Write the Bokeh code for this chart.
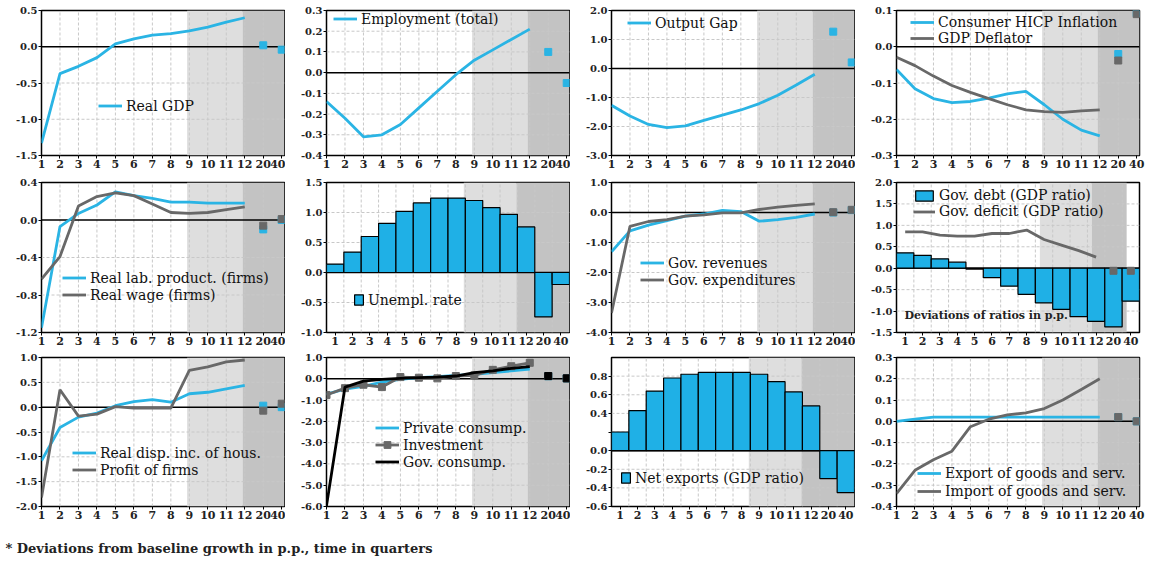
from bokeh.plotting import figure
from bokeh.layouts import column, row
from bokeh.models import (Range1d, FixedTicker, NumeralTickFormatter, Legend,
                          LegendItem, Label)
from bokeh.embed import file_html
from bokeh.resources import INLINE

# ---------------------------------------------------------------- data
QUARTERS = ["1", "2", "3", "4", "5", "6", "7", "8", "9", "10", "11", "12", "20", "40"]
NEAR = list(range(1, 13))   # slots of quarters 1..12
FAR = [13, 14]              # slots of quarters 20 and 40
ALL = list(range(1, 15))

real_gdp = [-1.33, -0.37, -0.27, -0.15, 0.04, 0.11, 0.16, 0.18, 0.22, 0.27, 0.34, 0.40]
real_gdp_far = [0.02, -0.04]

employment = [-0.14, -0.22, -0.31, -0.30, -0.25, -0.17, -0.09, -0.01, 0.06, 0.11, 0.16, 0.21]
employment_far = [0.10, -0.05]

output_gap = [-1.27, -1.64, -1.93, -2.04, -1.98, -1.79, -1.61, -1.43, -1.21, -0.92, -0.57, -0.20]
output_gap_far = [1.27, 0.21]

hicp = [-0.063, -0.116, -0.143, -0.154, -0.151, -0.142, -0.130, -0.123, -0.160, -0.200, -0.230, -0.246]
hicp_far = [-0.020, 0.093]
deflator = [-0.029, -0.052, -0.081, -0.107, -0.126, -0.143, -0.160, -0.174, -0.179, -0.181, -0.177, -0.174]
deflator_far = [-0.038, 0.090]

lab_prod = [-1.15, -0.07, 0.07, 0.16, 0.30, 0.26, 0.23, 0.19, 0.19, 0.18, 0.18, 0.18]
lab_prod_far = [-0.10, 0.00]
real_wage = [-0.63, -0.39, 0.15, 0.25, 0.29, 0.26, 0.17, 0.08, 0.07, 0.08, 0.11, 0.14]
real_wage_far = [-0.06, 0.01]

unempl = [0.14, 0.34, 0.60, 0.82, 1.02, 1.16, 1.24, 1.24, 1.20, 1.08, 0.97, 0.76, -0.74, -0.20]

gov_rev = [-1.31, -0.61, -0.42, -0.27, -0.12, -0.05, 0.07, 0.03, -0.29, -0.24, -0.16, -0.05]
gov_rev_far = [0.00, 0.08]
gov_exp = [-3.35, -0.46, -0.30, -0.24, -0.12, -0.08, -0.01, -0.01, 0.10, 0.18, 0.24, 0.29]
gov_exp_far = [0.01, 0.09]

gov_debt = [0.36, 0.30, 0.22, 0.14, -0.02, -0.22, -0.42, -0.61, -0.81, -0.96, -1.13, -1.24, -1.37, -0.77]
gov_deficit = [0.85, 0.85, 0.77, 0.75, 0.75, 0.81, 0.81, 0.89, 0.67, 0.54, 0.41, 0.26]
gov_deficit_far = [-0.06, -0.06]

disp_inc = [-1.08, -0.41, -0.20, -0.12, 0.03, 0.11, 0.15, 0.10, 0.27, 0.30, 0.37, 0.44]
disp_inc_far = [0.03, 0.00]
profit = [-1.82, 0.35, -0.18, -0.14, 0.01, -0.02, -0.02, -0.02, 0.74, 0.81, 0.91, 0.95]
profit_far = [-0.07, 0.07]

priv_cons = [-0.72, -0.49, -0.36, -0.16, -0.03, 0.05, 0.10, 0.16, 0.21, 0.29, 0.37, 0.46]
priv_cons_far = [0.12, 0.02]
investment = [-0.76, -0.44, -0.28, -0.39, 0.08, 0.05, 0.02, 0.13, 0.16, 0.42, 0.59, 0.75]
investment_far = [0.12, 0.02]
gov_cons = [-5.97, -0.39, -0.11, -0.03, 0.02, 0.05, 0.08, 0.13, 0.29, 0.37, 0.49, 0.57]
gov_cons_far = [0.13, 0.02]

net_exports = [0.20, 0.43, 0.64, 0.78, 0.82, 0.84, 0.84, 0.84, 0.82, 0.74, 0.63, 0.48, -0.30, -0.45]

exports = [0.00, 0.01, 0.02, 0.02, 0.02, 0.02, 0.02, 0.02, 0.02, 0.02, 0.02, 0.02]
exports_far = [0.02, 0.00]
imports = [-0.34, -0.23, -0.18, -0.14, -0.025, 0.01, 0.03, 0.04, 0.06, 0.10, 0.15, 0.20]
imports_far = [0.02, 0.00]

# ---------------------------------------------------------------- style
CYAN = "#2ab4e4"
GRAY = "#686868"
BAR = "#1fb0e6"
SHADE_LIGHT = "#dedede"
SHADE_DARK = "#c3c3c3"
GRID = "#c8c8c8"
SERIF = "DejaVu Serif"

COL_W = [285, 285, 285, 295]
BORDER_RIGHT = [1, 1, 1, 11]
ROW_H = [174, 175, 176]
BORDER_TOP = [10, 8, 8]
BORDER_BOTTOM = [19, 17, 19]
FRAME_H = [h - t - b for h, t, b in zip(ROW_H, BORDER_TOP, BORDER_BOTTOM)]

LINE_SHADES = [(8.88, 11.88), (11.88, 14.15)]
BAR_SHADES = [(8.41, 11.44), (11.44, 14.5)]


def steps(lo, hi, step):
    n = int(round((hi - lo) / step))
    return [round(lo + i * step, 2) for i in range(n + 1)]


def panel(ci, ri, y_lo, y_hi, ticks, bars=False, shades=None, blank=()):
    xr = Range1d(0.5, 14.5) if bars else Range1d(1, 14.15)
    p = figure(width=COL_W[ci], height=ROW_H[ri], x_range=xr,
               y_range=Range1d(y_lo, y_hi), output_backend="svg",
               toolbar_location=None,
               min_border_left=41, min_border_right=BORDER_RIGHT[ci],
               min_border_top=BORDER_TOP[ri], min_border_bottom=BORDER_BOTTOM[ri])
    p.xgrid.visible = False
    p.ygrid.visible = False
    p.outline_line_color = "black"
    p.outline_line_width = 1.5
    p.outline_line_alpha = 1
    p.background_fill_color = "white"
    p.border_fill_color = "white"

    if shades is None:
        shades = BAR_SHADES if bars else LINE_SHADES
    for (a, b), c in zip(shades, [SHADE_LIGHT, SHADE_DARK]):
        p.quad(left=a, right=b, bottom=y_lo, top=y_hi, fill_color=c, line_color=None)

    vgrid = [i + 0.5 for i in range(1, 14)] if bars else list(range(2, 14))
    xs = [[g, g] for g in vgrid]
    ys = [[y_lo, y_hi] for _ in vgrid]
    for t in ticks:
        if t not in (0, y_lo, y_hi):
            xs.append([xr.start, xr.end])
            ys.append([t, t])
    p.multi_line(xs, ys, line_color=GRID, line_width=1, line_dash="3 2")
    p.line([xr.start, xr.end], [0, 0], line_color="black", line_width=1.5)

    p.xaxis.ticker = FixedTicker(ticks=ALL)
    p.xaxis.major_label_overrides = {i: q for i, q in zip(ALL, QUARTERS)}
    p.yaxis.ticker = FixedTicker(ticks=ticks)
    p.yaxis.formatter = NumeralTickFormatter(format="0.0")
    if blank:
        p.yaxis.major_label_overrides = {t: "" for t in blank}
    for ax in p.axis:
        ax.axis_line_color = None
        ax.major_tick_in = 0
        ax.major_tick_out = 3
        ax.major_tick_line_color = "black"
        ax.minor_tick_line_color = None
        ax.major_label_standoff = 1
        ax.major_label_text_font = SERIF
        ax.major_label_text_font_style = "bold"
        ax.major_label_text_font_size = "10px"
        ax.major_label_text_color = "#222222"
    p.xaxis.major_label_text_font_size = "11px"
    return p


def add_legend(p, ri, items, left, top, glyph_w=24, glyph_h=17, row_h=17):
    leg = Legend(items=[LegendItem(label=lab, renderers=rs) for lab, rs in items],
                 location=(left, FRAME_H[ri] - top - row_h * len(items)))
    leg.background_fill_alpha = 0
    leg.border_line_alpha = 0
    leg.padding = 0
    leg.margin = 0
    leg.spacing = 0
    leg.glyph_width = glyph_w
    leg.glyph_height = glyph_h
    leg.label_height = row_h
    leg.label_standoff = 4
    leg.label_text_font = SERIF
    leg.label_text_font_size = "14px"
    leg.label_text_color = "#111111"
    p.add_layout(leg)


def curve(p, near, far, color, width=2.8):
    r = p.line(NEAR, near, line_color=color, line_width=width)
    p.scatter(FAR, far, marker="square", size=7, fill_color=color, line_color=color)
    return r


def bars(p, vals):
    return p.vbar(x=ALL, top=vals, bottom=0, width=1.0, fill_color=BAR,
                  line_color="black", line_width=1.2)


# ---------------------------------------------------------------- row 1
p1 = panel(0, 0, -1.5, 0.5, steps(-1.5, 0.5, 0.5))
r = curve(p1, real_gdp, real_gdp_far, CYAN)
add_legend(p1, 0, [("Real GDP", [r])], 57, 87)

p2 = panel(1, 0, -0.4, 0.3, steps(-0.4, 0.3, 0.1))
r = curve(p2, employment, employment_far, CYAN)
add_legend(p2, 0, [("Employment (total)", [r])], 7, 0)

p3 = panel(2, 0, -3.0, 2.0, steps(-3.0, 2.0, 1.0))
r = curve(p3, output_gap, output_gap_far, CYAN)
add_legend(p3, 0, [("Output Gap", [r])], 16, 4)

p4 = panel(3, 0, -0.3, 0.1, steps(-0.3, 0.1, 0.1))
ra = curve(p4, hicp, hicp_far, CYAN)
rb = curve(p4, deflator, deflator_far, GRAY)
add_legend(p4, 0, [("Consumer HICP Inflation", [ra]), ("GDP Deflator", [rb])], 14, 4, row_h=16, glyph_h=16)

# ---------------------------------------------------------------- row 2
p5 = panel(0, 1, -1.2, 0.4, steps(-1.2, 0.4, 0.4))
ra = curve(p5, lab_prod, lab_prod_far, CYAN)
rb = curve(p5, real_wage, real_wage_far, GRAY)
add_legend(p5, 1, [("Real lab. product. (firms)", [ra]), ("Real wage (firms)", [rb])], 21, 87)

p6 = panel(1, 1, -1.0, 1.5, steps(-1.0, 1.5, 0.5), bars=True)
rb = bars(p6, unempl)
add_legend(p6, 1, [("Unempl. rate", [rb])], 27, 109, glyph_w=11, glyph_h=13)

p7 = panel(2, 1, -4.0, 1.0, steps(-4.0, 1.0, 1.0))
ra = curve(p7, gov_rev, gov_rev_far, CYAN)
rb = curve(p7, gov_exp, gov_exp_far, GRAY)
add_legend(p7, 1, [("Gov. revenues", [ra]), ("Gov. expenditures", [rb])], 29, 72)

p8 = panel(3, 1, -1.5, 2.0, steps(-1.5, 2.0, 0.5), bars=True,
           shades=[(8.76, 11.75), (11.75, 13.76)])
rb = bars(p8, gov_debt)
rl = p8.line(NEAR, gov_deficit, line_color=GRAY, line_width=2.8)
p8.scatter(FAR, gov_deficit_far, marker="square", size=7, fill_color=GRAY, line_color=GRAY)
add_legend(p8, 1, [("Gov. debt (GDP ratio)", [rb]), ("Gov. deficit (GDP ratio)", [rl])],
           17, 7, glyph_w=22, glyph_h=13, row_h=15)
p8.add_layout(Label(x=8, y=-1.1, x_units="screen", text="Deviations of ratios in p.p.",
                    text_font=SERIF, text_font_style="bold", text_font_size="11px",
                    text_color="#222222", text_baseline="middle"))

# ---------------------------------------------------------------- row 3
p9 = panel(0, 2, -2.0, 1.0, steps(-2.0, 1.0, 0.5))
ra = curve(p9, disp_inc, disp_inc_far, CYAN)
rb = curve(p9, profit, profit_far, GRAY)
add_legend(p9, 2, [("Real disp. inc. of hous.", [ra]), ("Profit of firms", [rb])], 31, 87)

p10 = panel(1, 2, -6.0, 1.0, steps(-6.0, 1.0, 1.0))
ra = curve(p10, priv_cons, priv_cons_far, CYAN)
rb = curve(p10, investment, investment_far, GRAY)
rm = p10.scatter(NEAR, investment, marker="square", size=7, fill_color=GRAY, line_color=GRAY)
rc = curve(p10, gov_cons, gov_cons_far, "black")
add_legend(p10, 2, [("Private consump.", [ra]), ("Investment", [rb, rm]),
                    ("Gov. consump.", [rc])], 49, 62)

p11 = panel(2, 2, -0.6, 1.0, steps(-0.6, 0.8, 0.2), bars=True, blank=(0.2,))
rb = bars(p11, net_exports)
add_legend(p11, 2, [("Net exports (GDP ratio)", [rb])], 9, 112, glyph_w=11, glyph_h=13)

p12 = panel(3, 2, -0.4, 0.3, steps(-0.4, 0.3, 0.1))
ra = curve(p12, exports, exports_far, CYAN)
rb = curve(p12, imports, imports_far, GRAY)
add_legend(p12, 2, [("Export of goods and serv.", [ra]), ("Import of goods and serv.", [rb])], 21, 107, row_h=18, glyph_h=18)

# ---------------------------------------------------------------- footnote
foot = figure(width=1150, height=37, x_range=Range1d(0, 1150), y_range=Range1d(0, 37),
              x_axis_type=None, y_axis_type=None, output_backend="svg",
              toolbar_location=None, min_border=0)
foot.xgrid.visible = False
foot.ygrid.visible = False
foot.outline_line_color = None
foot.add_layout(Label(x=5, y=14, text="* Deviations from baseline growth in p.p., time in quarters",
                      text_font=SERIF, text_font_style="bold", text_font_size="13px",
                      text_color="#222222", text_baseline="middle"))

layout = column(row(p1, p2, p3, p4), row(p5, p6, p7, p8), row(p9, p10, p11, p12), foot)

with open("out.html", "w") as f:
    f.write(file_html(layout, INLINE))
